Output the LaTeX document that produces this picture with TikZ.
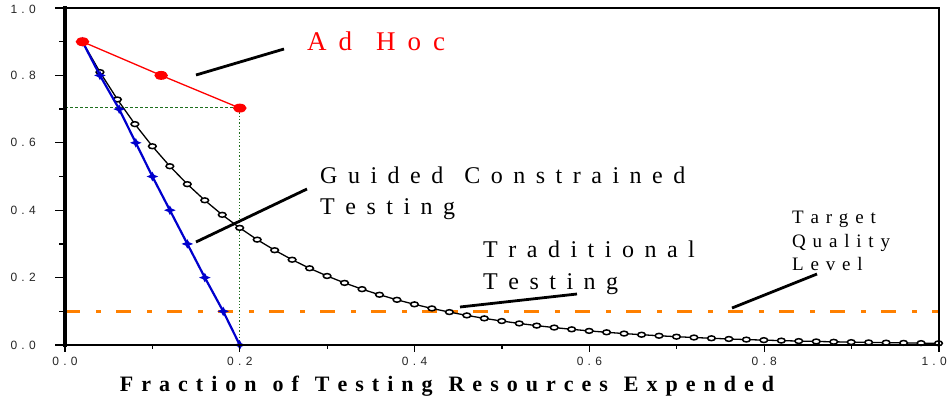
\documentclass[tikz,border=0pt]{standalone}
\usepackage{fontspec}
\setmainfont{Liberation Serif}
\setsansfont{Liberation Sans}
\definecolor{adred}{RGB}{255,0,0}
\definecolor{gcblue}{RGB}{0,0,205}
\definecolor{tqorange}{RGB}{255,128,0}
\definecolor{guidegreen}{RGB}{30,110,30}
\newcommand\myticklblfont{\sffamily\fontsize{12}{14}\selectfont\spaceskip=4.3pt\relax\xspaceskip=4.3pt\relax}
\newcommand\mybigfont{\fontsize{24}{29}\selectfont\spaceskip=10.5pt\relax\xspaceskip=10.5pt\relax}
\newcommand\myadfont{\fontsize{27}{32}\selectfont\spaceskip=12pt\relax\xspaceskip=12pt\relax}
\newcommand\mysmallfont{\fontsize{19}{23}\selectfont\spaceskip=6.8pt\relax\xspaceskip=6.8pt\relax}
\newcommand\mytitlefont{\bfseries\fontsize{22}{26}\selectfont\spaceskip=8pt\relax\xspaceskip=8pt\relax}
\pgfdeclareplotmark{fourstar}{%
  \pgfpathmoveto{\pgfqpoint{1.2\pgfplotmarksize}{0pt}}%
  \pgfpathlineto{\pgfqpoint{0.35\pgfplotmarksize}{0.35\pgfplotmarksize}}%
  \pgfpathlineto{\pgfqpoint{0pt}{\pgfplotmarksize}}%
  \pgfpathlineto{\pgfqpoint{-0.35\pgfplotmarksize}{0.35\pgfplotmarksize}}%
  \pgfpathlineto{\pgfqpoint{-1.2\pgfplotmarksize}{0pt}}%
  \pgfpathlineto{\pgfqpoint{-0.35\pgfplotmarksize}{-0.35\pgfplotmarksize}}%
  \pgfpathlineto{\pgfqpoint{0pt}{-\pgfplotmarksize}}%
  \pgfpathlineto{\pgfqpoint{0.35\pgfplotmarksize}{-0.35\pgfplotmarksize}}%
  \pgfpathclose\pgfusepathqfill}
\begin{document}
\begin{tikzpicture}[x=1pt,y=-1pt,
  frame/.style={draw=black,line cap=rect},
  tickmark/.style={draw=black,line width=1.3pt},
  ticklbl/.style={font=\myticklblfont,inner sep=0pt,text=black!85},
  biglbl/.style={font=\mybigfont,inner sep=0pt,anchor=base west},
  adlbl/.style={font=\myadfont,inner sep=0pt,anchor=base west,text=adred},
  smalllbl/.style={font=\mysmallfont,inner sep=0pt,anchor=base west},
  titlelbl/.style={font=\mytitlefont,inner sep=0pt,anchor=base},
  leader/.style={draw=black,line width=2.8pt},
  guide/.style={draw=guidegreen,line width=1.1pt},
  targetline/.style={draw=tqorange,line width=3.6pt,dash pattern=on 15pt off 16pt on 5pt off 15pt},
  tradcurve/.style={draw=black,line width=1.3pt},
  gccurve/.style={draw=gcblue,line width=2.2pt},
  adcurve/.style={draw=adred,line width=1.3pt}
]
\useasboundingbox (0,0) rectangle (948,402);
\fill[white] (0,0) rectangle (948,402);

% data area
\begin{scope}[shift={(65,345)},x=874pt,y=337pt]
  \draw[guide,dash pattern=on 2.5pt off 2.5pt] (0,0.705) -- (0.2,0.705);
  \draw[guide,dash pattern=on 1.3pt off 2pt] (0.2,0.7) -- (0.2,0);
  \draw[targetline] (0,0.1) -- (1,0.1);
  \draw[tradcurve] plot[mark=*,mark size=2.4pt,mark options={fill=white,draw=black,line width=1.5pt,xscale=1.6},samples=50,domain=0.02:1] (\x,{0.9*exp(-5.29*(\x-0.02))});
  \draw[gccurve] plot[mark=fourstar,mark size=4.8pt,mark options={fill=gcblue}] coordinates {(0.02,0.9) (0.04,0.8) (0.062,0.7) (0.081,0.6) (0.1,0.5) (0.12,0.4) (0.14,0.3) (0.16,0.2) (0.181,0.1) (0.2,0)};
  \draw[adcurve] plot[mark=*,mark size=3.8pt,mark options={fill=adred,draw=adred,xscale=1.6}] coordinates {(0.02,0.9) (0.11,0.8) (0.2,0.703)};
\end{scope}

% frame
\draw[frame,line width=3.2pt] (65,8) -- (65,345);
\draw[frame,line width=2.5pt] (65,345) -- (939,345);
\draw[frame,line width=2.2pt] (65,8) -- (939,8);
\draw[frame,line width=2.2pt] (939,8) -- (939,345);

% ticks
\foreach \i in {0,...,5} {
  \draw[tickmark] ({65+174.8*\i},345) -- ++(0,7);
  \draw[tickmark] (65,{345-67.4*\i}) -- ++(-10,0);
}
\foreach \i in {0,...,4} {
  \draw[tickmark] ({65+87.4+174.8*\i},345) -- ++(0,4);
  \draw[tickmark] (65,{345-33.7-67.4*\i}) -- ++(-6,0);
}
% tick labels
\node[ticklbl,anchor=base] (xl0) at (65,365) {0 . 0};
\node[ticklbl,anchor=base] (xl1) at (239.8,365) {0 . 2};
\node[ticklbl,anchor=base] (xl2) at (414.6,365) {0 . 4};
\node[ticklbl,anchor=base] (xl3) at (589.4,365) {0 . 6};
\node[ticklbl,anchor=base] (xl4) at (764.2,365) {0 . 8};
\node[ticklbl,anchor=base east] (xl5) at (947,365) {1 . 0};
\node[ticklbl,anchor=east] (yl0) at (36,345) {0 . 0};
\node[ticklbl,anchor=east] (yl1) at (36,277.6) {0 . 2};
\node[ticklbl,anchor=east] (yl2) at (36,210.2) {0 . 4};
\node[ticklbl,anchor=east] (yl3) at (36,142.8) {0 . 6};
\node[ticklbl,anchor=east] (yl4) at (36,75.4) {0 . 8};
\node[ticklbl,anchor=east] (yl5) at (36,9) {1 . 0};

% labels
\node[adlbl] (adhoc) at (307,50) {A d\ \ H o c};
\node[biglbl] (gc1) at (320,183) {G u i d e d\ \ C o n s t r a i n e d};
\node[biglbl] (gc2) at (320,214) {T e s t i n g};
\node[biglbl] (tr1) at (483,257) {T r a d i t i o n a l};
\node[biglbl] (tr2) at (483,289) {T e s t i n g};
\node[smalllbl] (tq1) at (792,223) {T a r g e t};
\node[smalllbl] (tq2) at (792,247) {Q u a l i t y};
\node[smalllbl] (tq3) at (792,270) {L e v e l};
\node[titlelbl] (xtitle) at (447,391) {F r a c t i o n\ \ o f\ \ T e s t i n g\ \ R e s o u r c e s\ \ E x p e n d e d};

% leader lines
\coordinate (adA) at (196,75);   \coordinate (adB) at (284,49);
\coordinate (gcA) at (196,242);  \coordinate (gcB) at (307,189);
\coordinate (trA) at (460,307);  \coordinate (trB) at (577,294);
\coordinate (tqA) at (732,308);  \coordinate (tqB) at (817,274);
\draw[leader] (adA) -- (adB);
\draw[leader] (gcA) -- (gcB);
\draw[leader] (trA) -- (trB);
\draw[leader] (tqA) -- (tqB);
\end{tikzpicture}
\end{document}
